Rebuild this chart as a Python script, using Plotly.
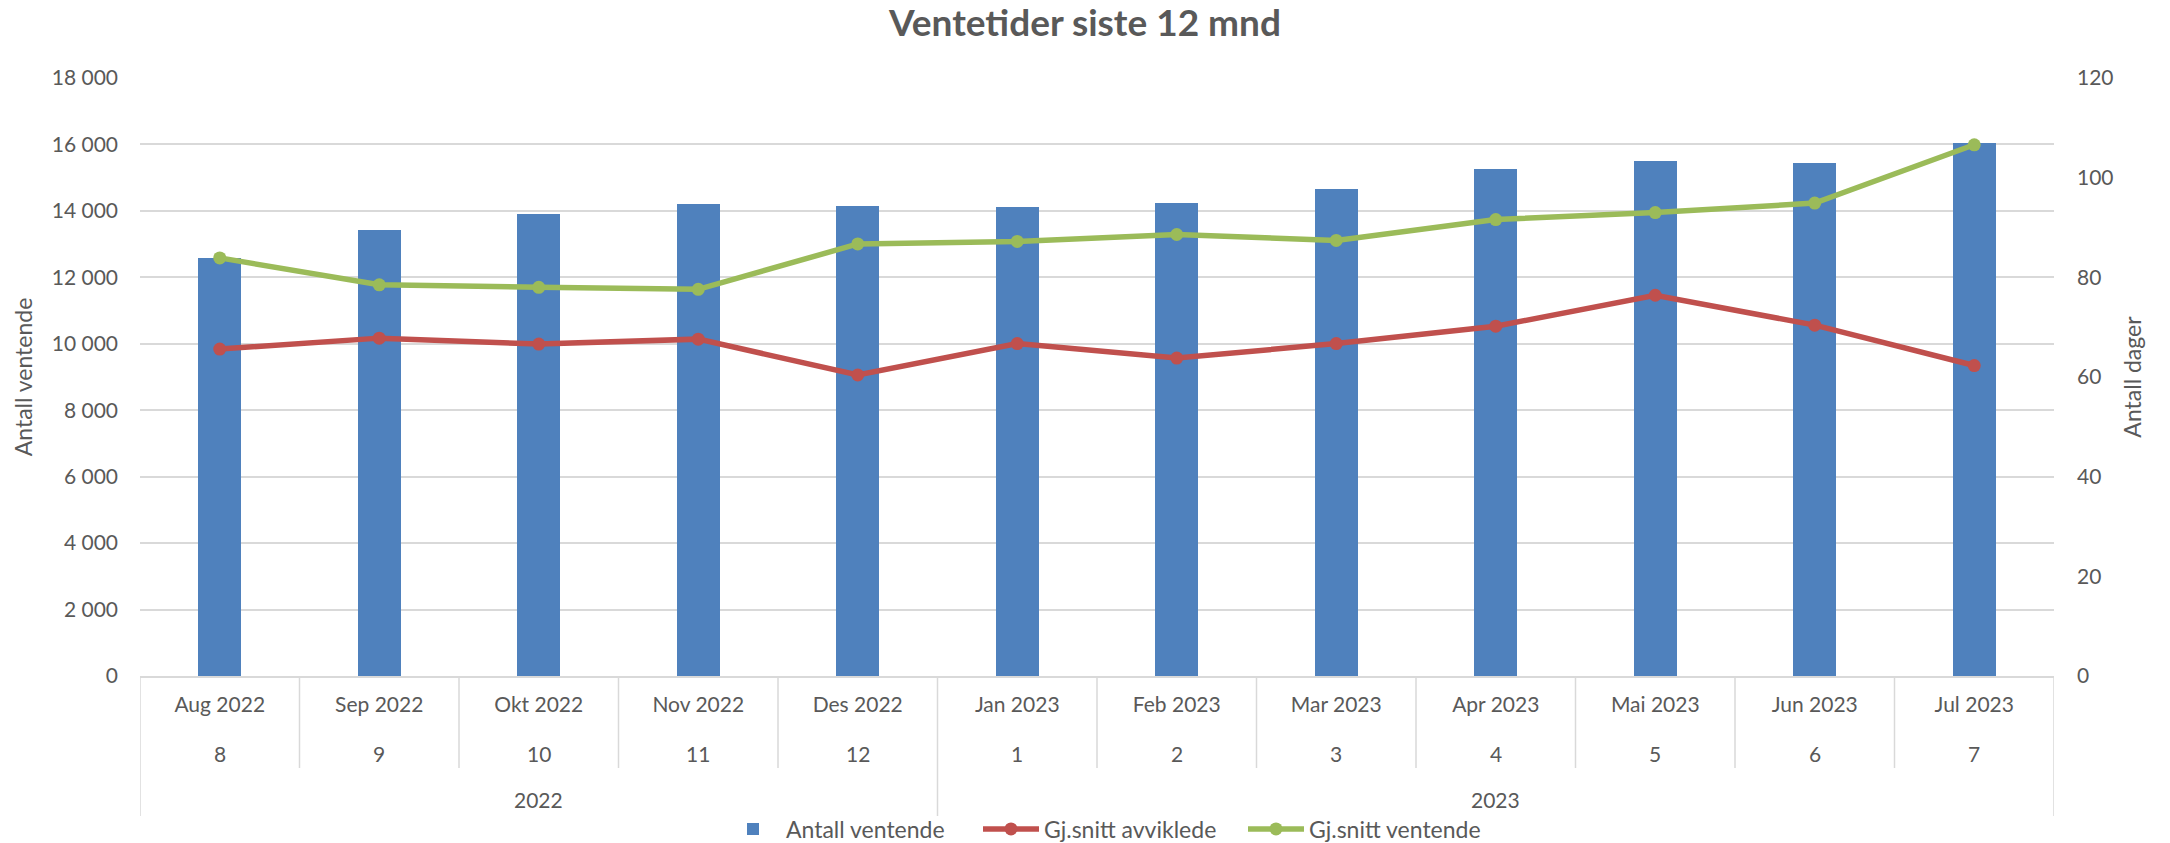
import plotly.graph_objects as go

months = ["Aug 2022", "Sep 2022", "Okt 2022", "Nov 2022", "Des 2022", "Jan 2023",
          "Feb 2023", "Mar 2023", "Apr 2023", "Mai 2023", "Jun 2023", "Jul 2023"]
month_numbers = ["8", "9", "10", "11", "12", "1", "2", "3", "4", "5", "6", "7"]
years = ["2022", "2023"]
year_groups = [(0, 4), (5, 11)]  # index ranges of months per year

antall_ventende = [12570, 13425, 13915, 14215, 14150, 14120, 14240, 14650, 15265, 15495, 15445, 16055]
snitt_avviklede = [65.6, 67.8, 66.6, 67.6, 60.4, 66.7, 63.8, 66.7, 70.2, 76.4, 70.4, 62.3]
snitt_ventende = [83.9, 78.5, 78.0, 77.6, 86.7, 87.2, 88.6, 87.4, 91.6, 93.0, 94.9, 106.6]

left_ticks = list(range(0, 18001, 2000))
left_ticktext = [f"{v:,}".replace(",", " ") for v in left_ticks]
right_ticks = list(range(0, 121, 20))

FONT = "Lato"
TXT = "#595959"
GRID = "#D9D9D9"

fig = go.Figure()
fig.add_trace(go.Bar(x=months, y=antall_ventende, name="Antall ventende", legend="legend",
                     showlegend=True,
                     marker=dict(color="#4F81BD", line=dict(width=0)), width=0.27))
fig.add_trace(go.Scatter(x=months, y=snitt_avviklede, name="Gj.snitt avviklede", yaxis="y2",
                         legend="legend2", showlegend=True,
                         mode="lines+markers", line=dict(color="#C0504D", width=5.5),
                         marker=dict(size=13, color="#C0504D")))
fig.add_trace(go.Scatter(x=months, y=snitt_ventende, name="Gj.snitt ventende", yaxis="y2",
                         legend="legend3", showlegend=True,
                         mode="lines+markers", line=dict(color="#9BBB59", width=5.5),
                         marker=dict(size=13, color="#9BBB59")))

PL, PR, PT, PB = 140, 2054, 78, 676

def py(pix):
    return (PB - pix) / (PB - PT)

def px(pix):
    return (pix - PL) / (PR - PL)

annotations = []
for m, n in zip(months, month_numbers):
    annotations.append(dict(x=m, y=py(753), xref="x", yref="paper", text=n, showarrow=False,
                            font=dict(family=FONT, size=21, color=TXT), yanchor="middle"))
for yr, (a, b) in zip(years, year_groups):
    annotations.append(dict(x=(a + b) / 2, y=py(799), xref="x", yref="paper", text=yr, showarrow=False,
                            font=dict(family=FONT, size=21, color=TXT), yanchor="middle"))

shapes = []
long_bounds = [-0.5] + [b + 0.5 for (_, b) in year_groups]
for i in range(len(months) + 1):
    xb = i - 0.5
    y1 = py(816) if xb in long_bounds else py(768)
    shapes.append(dict(type="line", xref="x", yref="paper", x0=xb, x1=xb, y0=0, y1=y1,
                       line=dict(color=GRID, width=1.5)))

def leg(xpix, visible=True):
    return dict(orientation="h", x=px(xpix), xanchor="left", y=py(829), yanchor="middle",
                font=dict(size=23, color=TXT), itemwidth=56, bgcolor="rgba(0,0,0,0)",
                visible=visible)

fig.update_layout(
    width=2170, height=843,
    showlegend=True,
    margin=dict(l=PL, r=2170 - PR, t=PT, b=843 - PB, autoexpand=False),
    paper_bgcolor="white", plot_bgcolor="white",
    font=dict(family=FONT, color=TXT, size=21),
    title=dict(text="<b>Ventetider siste 12 mnd</b>", x=0.5, xanchor="center",
               y=1 - 23 / 843, yanchor="middle", font=dict(family=FONT, size=37, color=TXT)),
    xaxis=dict(type="category", showgrid=False, showline=True, linecolor=GRID, linewidth=2,
               ticks="", ticklabelstandoff=9, tickfont=dict(size=21, color=TXT),
               range=[-0.5, 11.5], automargin=False),
    yaxis=dict(range=[0, 18000], tickvals=left_ticks, ticktext=left_ticktext,
               showgrid=True, gridcolor=GRID, gridwidth=1.5, zeroline=False,
               ticks="", ticklabelstandoff=21, tickfont=dict(size=21, color=TXT),
               title=dict(text="Antall ventende", font=dict(size=23, color=TXT), standoff=12),
               automargin=False),
    yaxis2=dict(range=[0, 120], tickvals=right_ticks, overlaying="y", side="right",
                showgrid=False, zeroline=False, ticks="", ticklabelstandoff=22,
                tickfont=dict(size=21, color=TXT),
                title=dict(text="Antall dager", font=dict(size=23, color=TXT), standoff=12),
                automargin=False),
    legend=leg(720),
    legend2=leg(978),
    legend3=leg(1243),
    annotations=annotations,
    shapes=shapes,
    bargap=0,
)

fig.write_html("out.html", config={"displayModeBar": False},
               post_script="document.body.style.margin='0';document.body.style.overflow='hidden';")
